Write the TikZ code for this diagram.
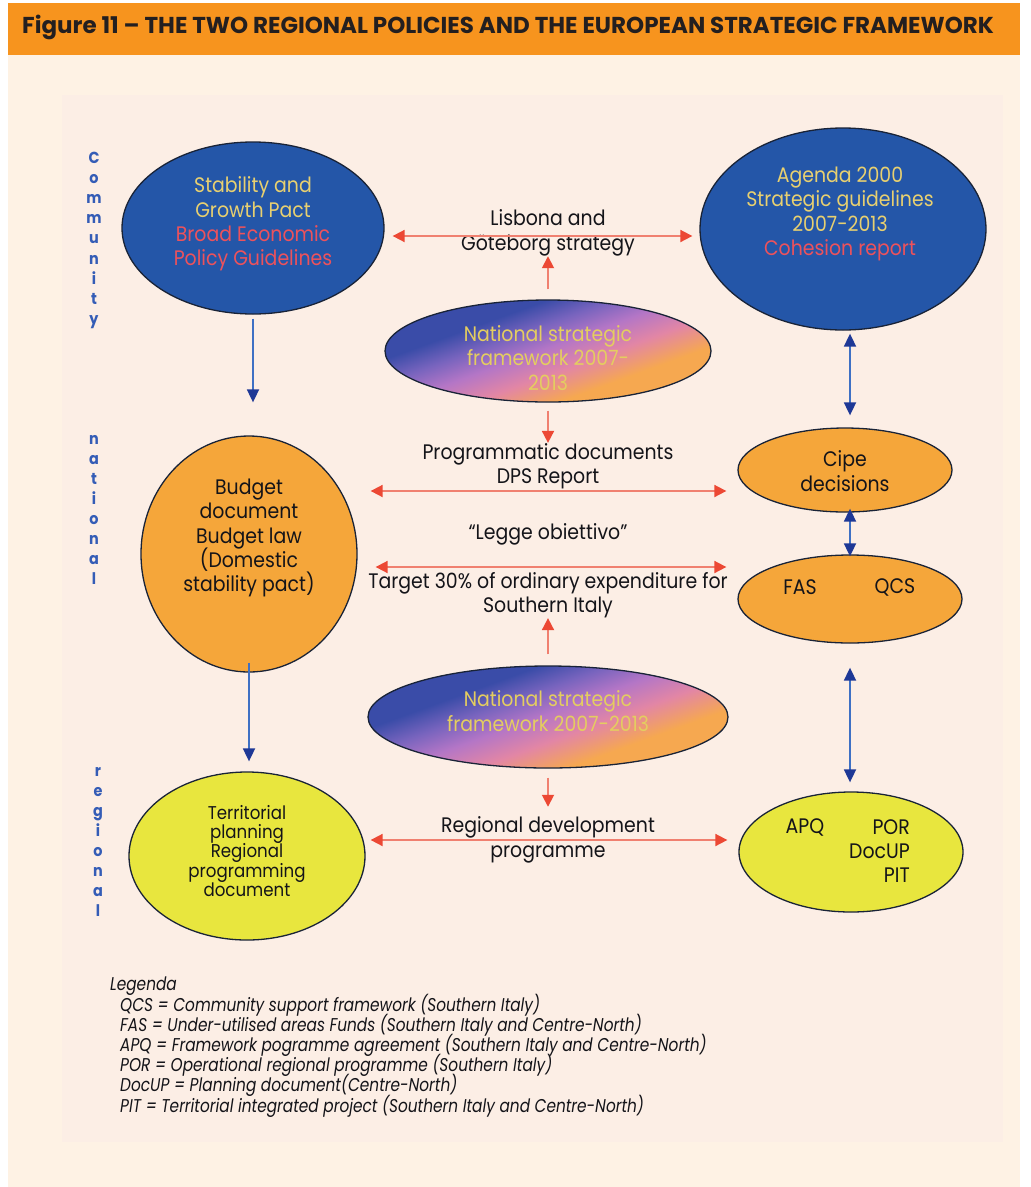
\documentclass[tikz,border=0pt]{standalone}
\usepackage{fontspec}
\usetikzlibrary{arrows.meta,shapes.geometric}
\setmainfont{Poppins}
\newfontfamily\fut[FakeStretch=0.9]{Poppins}
\newfontfamily\titlef[FakeStretch=1.0]{Poppins}
\newfontfamily\legf[FakeStretch=0.83]{Poppins}
\lineskiplimit=-30pt
\definecolor{barorange}{RGB}{247,148,30}
\definecolor{creamout}{RGB}{254,242,228}
\definecolor{creamin}{RGB}{252,238,229}
\definecolor{ellblue}{RGB}{36,86,168}
\definecolor{txtyellow}{RGB}{232,208,112}
\definecolor{txtred}{RGB}{236,82,92}
\definecolor{ellorange}{RGB}{245,166,58}
\definecolor{ellyellow}{RGB}{232,230,62}
\definecolor{lblblue}{RGB}{52,92,182}
\definecolor{outline}{RGB}{25,35,55}
\definecolor{arrred}{RGB}{240,128,112}
\definecolor{headred}{RGB}{236,72,52}
\definecolor{arrblue}{RGB}{62,112,196}
\definecolor{headblue}{RGB}{30,56,150}
\definecolor{gblue}{RGB}{58,76,168}
\definecolor{gbv}{RGB}{120,100,190}
\definecolor{gviolet}{RGB}{180,118,198}
\definecolor{gpink}{RGB}{226,134,165}
\definecolor{gorange}{RGB}{246,168,80}
\definecolor{gtext}{RGB}{228,205,96}
\definecolor{titletext}{RGB}{35,31,32}
\definecolor{bodytext}{RGB}{20,20,25}
\pgfdeclareverticalshading{nsfshade}{100bp}{color(0bp)=(gorange); color(34bp)=(gorange); color(43bp)=(gpink); color(51bp)=(gviolet); color(58bp)=(gbv); color(65bp)=(gblue); color(100bp)=(gblue)}
\tikzset{
  rtip/.tip={Triangle[length=12pt,width=12pt,color=headred]},
  btip/.tip={Triangle[length=13pt,width=12pt,color=headblue]},
  ell/.style={ellipse, draw=outline, line width=1.3pt, inner sep=0pt},
  gradell/.style={ell, shading=nsfshade, shading angle=20},
  redline/.style={draw=arrred, line width=1.8pt},
  blueline/.style={draw=arrblue, line width=1.8pt},
  bigtxt/.style={inner sep=0pt, align=center, text=bodytext, font=\fut\fontsize{21}{24.4}\selectfont},
  smalltxt/.style={inner sep=0pt, align=center, text=bodytext, font=\fut\fontsize{18.5}{19.2}\selectfont},
  vlabel/.style={inner sep=0pt, align=center, text=lblblue, font=\fut\bfseries\fontsize{16}{20.1}\selectfont},
}
\begin{document}
\begin{tikzpicture}[x=1pt,y=-1pt]
\useasboundingbox (0,0) rectangle (1031,1187);
\fill[white] (0,0) rectangle (1031,1187);
\fill[creamout] (8,55) rectangle (1020,1187);
\fill[barorange] (8,3) rectangle (1020,55);
\fill[creamin] (62,95) rectangle (1003,1142);

\node[anchor=west, inner sep=0pt, text=titletext, font=\titlef\bfseries\fontsize{23}{26}\selectfont] (title) at (22,27)
  {Figure 11 – THE TWO REGIONAL POLICIES AND THE EUROPEAN STRATEGIC FRAMEWORK};

% level labels
\node[vlabel, anchor=north] (lcom) at (94,152) {C\\o\\m\\m\\u\\n\\i\\t\\y};
\node[vlabel, anchor=north] (lnat) at (94,435) {n\\a\\t\\i\\o\\n\\a\\l};
\node[vlabel, anchor=north] (lreg) at (98,767) {r\\e\\g\\i\\o\\n\\a\\l};

% ellipses
\node[ell, fill=ellblue, minimum width=262pt, minimum height=172pt] (sgp) at (253,228) {};
\node[ell, fill=ellblue, minimum width=286pt, minimum height=202pt] (agenda) at (843,229) {};
\node[gradell, minimum width=326pt, minimum height=102pt] (nsf1) at (548,351) {};
\node[gradell, minimum width=360pt, minimum height=102pt] (nsf2) at (548,717) {};
\node[ell, fill=ellorange, minimum width=216pt, minimum height=236pt] (bud) at (249,554) {};
\node[ell, fill=ellyellow, minimum width=236pt, minimum height=168pt] (terr) at (247,856) {};
\node[ell, fill=ellorange, minimum width=214pt, minimum height=84pt] (cipe) at (845,470) {};
\node[ell, fill=ellorange, minimum width=224pt, minimum height=88pt] (fas) at (850,599) {};
\node[ell, fill=ellyellow, minimum width=224pt, minimum height=120pt] (apq) at (851,852) {};

% ellipse texts
\node[bigtxt] (sgpt) at (253,224) {\textcolor{txtyellow}{Stability and}\\\textcolor{txtyellow}{Growth Pact}\\\textcolor{txtred}{Broad Economic}\\\textcolor{txtred}{Policy Guidelines}};
\node[bigtxt] (agendat) at (840,214) {\textcolor{txtyellow}{Agenda 2000}\\\textcolor{txtyellow}{Strategic guidelines}\\\textcolor{txtyellow}{2007-2013}\\\textcolor{txtred}{Cohesion report}};
\node[bigtxt, text=gtext] (nsf1t) at (548,358) {National strategic\\framework 2007-\\2013};
\node[bigtxt, text=gtext] (nsf2t) at (548,711) {National strategic\\framework 2007-2013};
\node[bigtxt] (budt) at (249,538) {Budget\\document\\Budget law\\(Domestic\\stability pact)};
\node[smalltxt] (terrt) at (247,851) {Territorial\\planning\\Regional\\programming\\document};
\node[bigtxt] (cipet) at (845,471) {Cipe\\decisions};
\node[bigtxt] (fast) at (800,587) {FAS};
\node[bigtxt] (qcst) at (895,587) {QCS};
\node[bigtxt] (apqt) at (805,827) {APQ};
\node[bigtxt, align=right, anchor=east] (port) at (910,851) {POR\\DocUP\\PIT};

% middle texts
\node[bigtxt] (lis) at (548,233) {Lisbona and\\Göteborg strategy};
\node[bigtxt] (prog) at (548,466) {Programmatic documents\\DPS Report};
\node[bigtxt] (legge) at (548,534) {“Legge obiettivo”};
\node[bigtxt] (target) at (548,595) {Target 30\% of ordinary expenditure for\\Southern Italy};
\node[bigtxt] (reg) at (548,840) {Regional development\\programme};

% red connectors
\draw[redline, rtip-rtip, shorten <=8pt, shorten >=7pt] ([yshift=-8pt]sgp.east) -- ([yshift=-7pt]agenda.west);
\draw[redline, -rtip, shorten <=10pt] (nsf1.north) -- (lis.south);
\draw[redline, -rtip, shorten <=8pt] (nsf1.south) -- (prog.north);
\draw[redline, rtip-rtip, shorten <=13pt, shorten >=11pt] ([yshift=63pt]bud.east) -- ([yshift=-21pt]cipe.west);
\draw[redline, rtip-rtip, shorten <=18pt, shorten >=11pt] ([yshift=-13pt]bud.east) -- ([yshift=32pt]fas.west);
\draw[redline, -rtip, shorten <=11pt] (nsf2.north) -- (target.south);
\draw[redline, -rtip, shorten <=9pt, shorten >=10pt] (nsf2.south) -- (reg.north);
\draw[redline, rtip-rtip, shorten <=5pt, shorten >=11pt] ([yshift=16pt]terr.east) -- ([yshift=12pt]apq.west);

% blue connectors
\draw[blueline, -btip, shorten <=4pt, shorten >=33pt] (sgp.south) -- (sgp.south |- bud.north);
\draw[blueline, -btip, shorten <=-10pt, shorten >=10pt] (bud.south) -- (bud.south |- terr.north);
\draw[blueline, btip-btip, shorten <=3pt, shorten >=12pt] (fas.north |- agenda.south) -- (fas.north |- cipe.north);
\draw[blueline, btip-btip, shorten <=-4pt, shorten >=-2pt] (fas.north |- cipe.south) -- (fas.north);
\draw[blueline, btip-btip, shorten <=24pt, shorten >=9pt] (fas.south) -- (fas.south |- apq.north);

% legend
\node[anchor=north west, inner sep=0pt, align=left, text=bodytext, font=\legf\itshape\fontsize{18.5}{20.2}\selectfont] (legend) at (110,977)
  {Legenda\\
   \hspace*{10pt}QCS = Community support framework (Southern Italy)\\
   \hspace*{10pt}FAS = Under-utilised areas Funds (Southern Italy and Centre-North)\\
   \hspace*{10pt}APQ = Framework pogramme agreement (Southern Italy and Centre-North)\\
   \hspace*{10pt}POR = Operational regional programme (Southern Italy)\\
   \hspace*{10pt}DocUP = Planning document(Centre-North)\\
   \hspace*{10pt}PIT = Territorial integrated project (Southern Italy and Centre-North)};
\end{tikzpicture}
\end{document}
